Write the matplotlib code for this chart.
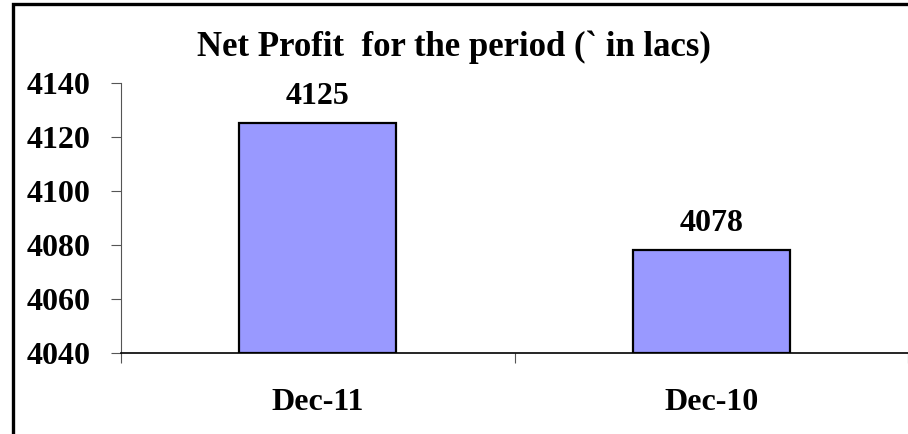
import matplotlib
matplotlib.use("Agg")
import matplotlib.pyplot as plt
from matplotlib.patches import Rectangle

categories = ["Dec-11", "Dec-10"]
values = [4125, 4078]
y_ticks = [4040, 4060, 4080, 4100, 4120, 4140]
title = "Net Profit  for the period (` in lacs)"

plt.rcParams['font.family'] = ['Liberation Serif', 'DejaVu Serif']
plt.rcParams['font.weight'] = 'bold'

fig = plt.figure(figsize=(9.08, 4.34), dpi=100)
ax = fig.add_axes([121/908, 1-353/434, 1-121/908, (353-83)/434])

ymin, ymax = y_ticks[0], y_ticks[-1]
xs = [i + 0.5 for i in range(len(categories))]
bars = ax.bar(xs, [v - ymin for v in values], bottom=ymin, width=0.4,
              color="#9999FF", edgecolor="black", linewidth=1.6, zorder=2)
for x, v in zip(xs, values):
    ax.annotate(f"{v}", (x, v), xytext=(0, 9), textcoords="offset points",
                ha="center", va="bottom", fontsize=23, fontweight="bold")

ax.set_xlim(0, len(categories))
ax.set_ylim(ymin, ymax)
ax.set_yticks(y_ticks)
ax.set_yticklabels([str(t) for t in y_ticks], fontsize=23, fontweight="bold")
ax.set_xticks(range(len(categories) + 1))
ax.set_xticklabels([])
ax.set_xticks(xs, minor=True)
ax.set_xticklabels(categories, minor=True, fontsize=23, fontweight="bold")
ax.tick_params(axis="x", which="major", direction="out", length=7, width=0.8, color="#555555")
ax.tick_params(axis="x", which="minor", length=0, pad=25)
ax.tick_params(axis="y", direction="out", length=7, width=0.8, color="#555555", pad=15)
for s in ("top", "right"):
    ax.spines[s].set_visible(False)
ax.spines["left"].set_color("#555555")
ax.spines["left"].set_linewidth(0.8)
ax.spines["bottom"].set_color("black")
ax.spines["bottom"].set_linewidth(1.2)

fig.text(0.5, 1-47/434, title, ha="center", va="center", fontsize=25, fontweight="bold")

fig.patches.append(Rectangle((13/908, -0.1), 1.2, 1.1 - 4.5/434, transform=fig.transFigure,
                             fill=False, edgecolor="black", linewidth=2.4, zorder=10))

fig.savefig("out.png", dpi=100, facecolor="white")
